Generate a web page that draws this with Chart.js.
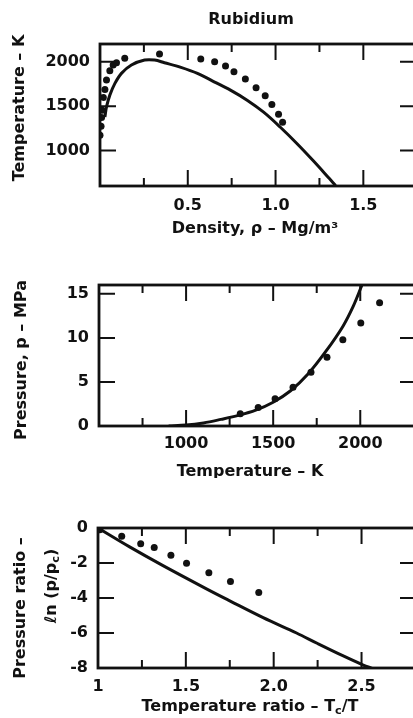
<!DOCTYPE html>
<html>
<head>
<meta charset="utf-8">
<script src="https://cdn.jsdelivr.net/npm/chart.js@4.4.1/dist/chart.umd.min.js"></script>
<style>
  html, body { margin: 0; padding: 0; background: #fff; overflow: hidden; width: 413px; height: 718px; }
  .panel { position: absolute; left: 0; }
</style>
</head>
<body>
<div class="panel" style="top:0"><canvas id="c1" width="420" height="240"></canvas></div>
<div class="panel" style="top:240px"><canvas id="c2" width="420" height="238"></canvas></div>
<div class="panel" style="top:478px"><canvas id="c3" width="420" height="240"></canvas></div>
<script>
// panel 1 : temperature vs density
const densityCurve = [0.028, 0.037, 0.056, 0.085, 0.122, 0.179, 0.254, 0.311, 0.367, 0.461, 0.555, 0.65, 0.743, 0.838, 0.932, 1.026, 1.12, 1.215, 1.308, 1.342];
const tempCurve = [1378, 1491, 1624, 1756, 1869, 1963, 2019, 2019, 1989, 1937, 1869, 1774, 1680, 1567, 1432, 1265, 1082, 884, 681, 606];
const densityDots = [0, 0.006, 0.009, 0.013, 0.019, 0.028, 0.037, 0.056, 0.075, 0.094, 0.141, 0.339, 0.574, 0.653, 0.715, 0.763, 0.828, 0.889, 0.941, 0.979, 1.017, 1.04];
const tempDots = [1171, 1273, 1371, 1454, 1598, 1688, 1793, 1898, 1963, 1989, 2039, 2087, 2031, 2000, 1952, 1887, 1805, 1706, 1616, 1518, 1409, 1318];
const densityTicks = [0.25, 0.5, 0.75, 1.0, 1.25, 1.5];
const densityLabels = ["", "0.5", "", "1.0", "", "1.5"];
const tempTicks = [1000, 1500, 2000];
const tempLabels = ["1000", "1500", "2000"];

// panel 2 : pressure vs temperature
const satTempCurve = [900, 1000, 1100, 1200, 1300, 1400, 1500, 1600, 1700, 1800, 1900, 1960, 2010];
const pressureCurve = [0, 0.1, 0.35, 0.75, 1.2, 1.8, 2.7, 4.0, 5.9, 8.4, 11.3, 13.6, 16];
const satTempDots = [1311, 1414, 1511, 1614, 1717, 1809, 1900, 2003, 2111];
const pressureDots = [1.4, 2.1, 3.1, 4.4, 6.1, 7.8, 9.8, 11.7, 14.0];
const kTicks = [750, 1000, 1250, 1500, 1750, 2000];
const kLabels = ["", "1000", "", "1500", "", "2000"];
const mpaTicks = [0, 5, 10, 15];
const mpaLabels = ["0", "5", "10", "15"];

// panel 3 : ln(p/pc) vs Tc/T
const ratioCurve = [1.0, 1.18, 1.37, 1.62, 1.75, 1.94, 2.13, 2.25, 2.39, 2.51, 2.56];
const lnCurve = [0, -1.08, -2.15, -3.49, -4.16, -5.12, -6.0, -6.6, -7.28, -7.83, -8.02];
const ratioDots = [1.01, 1.135, 1.243, 1.32, 1.415, 1.504, 1.631, 1.754, 1.915];
const lnDots = [-0.1, -0.47, -0.9, -1.12, -1.56, -2.02, -2.55, -3.06, -3.68];
const ratioTicks = [1, 1.25, 1.5, 1.75, 2.0, 2.25, 2.5];
const ratioLabels = ["1", "", "1.5", "", "2.0", "", "2.5"];
const lnTicks = [0, -2, -4, -6, -8];
const lnLabels = ["0", "-2", "-4", "-6", "-8"];

const INK = "#111";
const FONT = "DejaVu Sans";
const FSIZE = 16;

function pts(xs, ys) {
  return xs.map((x, i) => ({ x: x, y: ys[i] }));
}

// inward tick marks + closed frame
const framePlugin = {
  id: "frame",
  afterDatasetsDraw(chart) {
    const { ctx, chartArea: a, scales } = chart;
    ctx.save();
    ctx.strokeStyle = INK;
    ctx.lineWidth = 2;
    ctx.beginPath();
    scales.x.ticks.forEach(t => {
      const p = scales.x.getPixelForValue(t.value);
      const len = t.label ? 16 : 8;
      ctx.moveTo(p, a.bottom); ctx.lineTo(p, a.bottom - len);
      ctx.moveTo(p, a.top); ctx.lineTo(p, a.top + len);
    });
    scales.y.ticks.forEach(t => {
      const p = scales.y.getPixelForValue(t.value);
      const len = t.label ? 16 : 8;
      ctx.moveTo(a.left, p); ctx.lineTo(a.left + len, p);
      ctx.moveTo(a.right, p); ctx.lineTo(a.right - len, p);
    });
    ctx.stroke();
    ctx.lineWidth = 2.8;
    ctx.strokeRect(a.left, a.top, a.right - a.left, a.bottom - a.top);
    ctx.restore();
  }
};

// draws text made of runs, some of them subscript
function drawRuns(ctx, runs, cx, cy, rot) {
  ctx.save();
  ctx.translate(cx, cy);
  ctx.rotate(rot);
  ctx.fillStyle = INK;
  ctx.textBaseline = "alphabetic";
  const fonts = runs.map(r => "bold " + (r.sub ? FSIZE * 0.7 : FSIZE) + "px '" + FONT + "'");
  let total = 0;
  runs.forEach((r, i) => { ctx.font = fonts[i]; total += ctx.measureText(r.t).width; });
  let x = -total / 2;
  runs.forEach((r, i) => {
    ctx.font = fonts[i];
    ctx.fillText(r.t, x, r.sub ? 9 : 6);
    x += ctx.measureText(r.t).width;
  });
  ctx.restore();
}

function textPlugin(items) {
  return {
    id: "texts",
    afterDraw(chart) {
      items.forEach(it => drawRuns(chart.ctx, it.runs, it.x, it.y, it.rot || 0));
    }
  };
}

function makeAxis(min, max, ticks, labels, size, pad) {
  return {
    type: "linear",
    min: min,
    max: max,
    grid: { display: false, drawTicks: false },
    border: { display: false },
    afterBuildTicks: s => { s.ticks = ticks.map(v => ({ value: v })); },
    afterFit: s => { if (s.isHorizontal()) s.height = size; else s.width = size; },
    ticks: {
      autoSkip: false,
      maxRotation: 0,
      padding: pad,
      color: INK,
      font: { family: FONT, size: FSIZE, weight: "bold" },
      callback: (v, i) => labels[i]
    }
  };
}

function makePanel(id, o) {
  return new Chart(document.getElementById(id), {
    type: "scatter",
    data: {
      datasets: [
        { data: o.dots, pointRadius: 3.5, pointBackgroundColor: INK, pointBorderWidth: 0, showLine: false },
        { data: o.curve, showLine: true, pointRadius: 0, borderColor: INK, borderWidth: 3, tension: 0.35 }
      ]
    },
    options: {
      responsive: false,
      animation: false,
      events: [],
      layout: { padding: { top: o.top, right: 3, left: 0, bottom: 0 } },
      plugins: { legend: { display: false }, tooltip: { enabled: false } },
      scales: { x: o.x, y: o.y }
    },
    plugins: [framePlugin, textPlugin(o.texts)]
  });
}

makePanel("c1", {
  top: 44,
  dots: pts(densityDots, tempDots),
  curve: pts(densityCurve, tempCurve),
  x: makeAxis(0, 1.8, densityTicks, densityLabels, 54, 10),
  y: makeAxis(600, 2200, tempTicks, tempLabels, 100, 10),
  texts: [
    { runs: [{ t: "Rubidium" }], x: 251, y: 18 },
    { runs: [{ t: "Temperature \u2013 K" }], x: 18, y: 108, rot: -Math.PI / 2 },
    { runs: [{ t: "Density, \u03c1 \u2013 Mg/m\u00b3" }], x: 255, y: 227 }
  ]
});

makePanel("c2", {
  top: 45,
  dots: pts(satTempDots, pressureDots),
  curve: pts(satTempCurve, pressureCurve),
  x: makeAxis(500, 2320, kTicks, kLabels, 52, 8),
  y: makeAxis(0, 16, mpaTicks, mpaLabels, 99, 10),
  texts: [
    { runs: [{ t: "Pressure, p \u2013 MPa" }], x: 20, y: 120, rot: -Math.PI / 2 },
    { runs: [{ t: "Temperature \u2013 K" }], x: 250, y: 230 }
  ]
});

makePanel("c3", {
  top: 50,
  dots: pts(ratioDots, lnDots),
  curve: pts(ratioCurve, lnCurve),
  x: makeAxis(1, 2.81, ratioTicks, ratioLabels, 50, 9),
  y: makeAxis(-8, 0, lnTicks, lnLabels, 98, 10),
  texts: [
    { runs: [{ t: "Pressure ratio \u2013" }], x: 19, y: 130, rot: -Math.PI / 2 },
    { runs: [{ t: "\u2113n (p/p" }, { t: "c", sub: true }, { t: ")" }], x: 50, y: 108, rot: -Math.PI / 2 },
    { runs: [{ t: "Temperature ratio \u2013 T" }, { t: "c", sub: true }, { t: "/T" }], x: 250, y: 227 }
  ]
});
</script>
</body>
</html>
